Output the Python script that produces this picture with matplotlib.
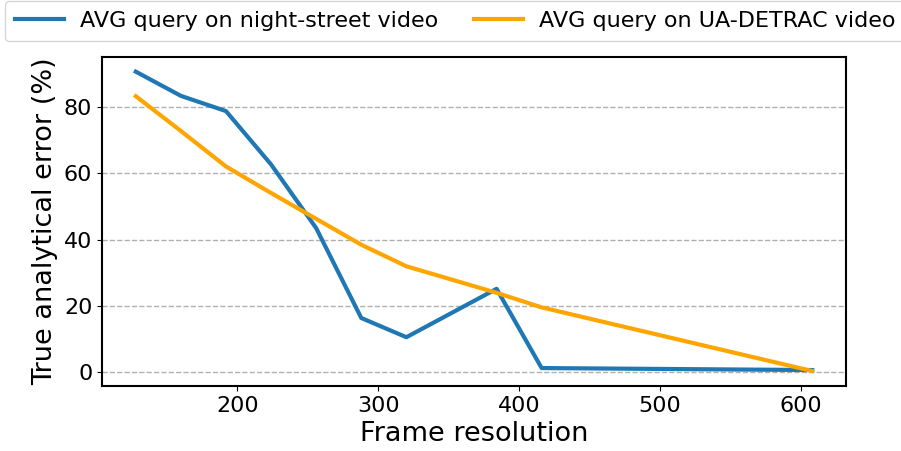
"""Analytical error of AVG queries versus frame resolution."""

from matplotlib import pyplot

resolution = [128, 160, 192, 224, 256, 288, 320, 384, 416, 608]
night_street = [90.7, 83.4, 78.8, 62.7, 43.5, 16.4, 10.6, 25.2, 1.3, 0.7]
ua_detrac = [83.3, 72.8, 62.1, 54.1, 46.3, 38.5, 32.0, 24.0, 19.6, 0.4]

labels = ['AVG query on night-street video', 'AVG query on UA-DETRAC video']

fig = pyplot.figure(figsize=(9.01, 4.51), dpi=100)
ax = fig.add_axes([0.1132, 0.1441, 0.8258, 0.7302])

ax.plot(resolution, night_street, color='#1f77b4', linewidth=3,
        label=labels[0])
ax.plot(resolution, ua_detrac, color='orange', linewidth=3,
        label=labels[1])

ax.set_xlabel('Frame resolution', fontsize=19.5)
ax.set_ylabel('True analytical error (%)', fontsize=19.5)
ax.set_xticks([200, 300, 400, 500, 600])
ax.set_yticks([0, 20, 40, 60, 80])
ax.tick_params(labelsize=16)
ax.yaxis.grid(True, linestyle='--', color='#b0b0b0', linewidth=1)
ax.set_axisbelow(True)
for spine in ax.spines.values():
    spine.set_linewidth(1.5)

fig.legend(loc='upper center', bbox_to_anchor=(0.505, 1.0), ncol=2,
           fontsize=16, handlelength=2.2, handletextpad=0.72,
           columnspacing=1.6, borderpad=0.45, borderaxespad=0.05)

fig.savefig('out.png', dpi=100)
